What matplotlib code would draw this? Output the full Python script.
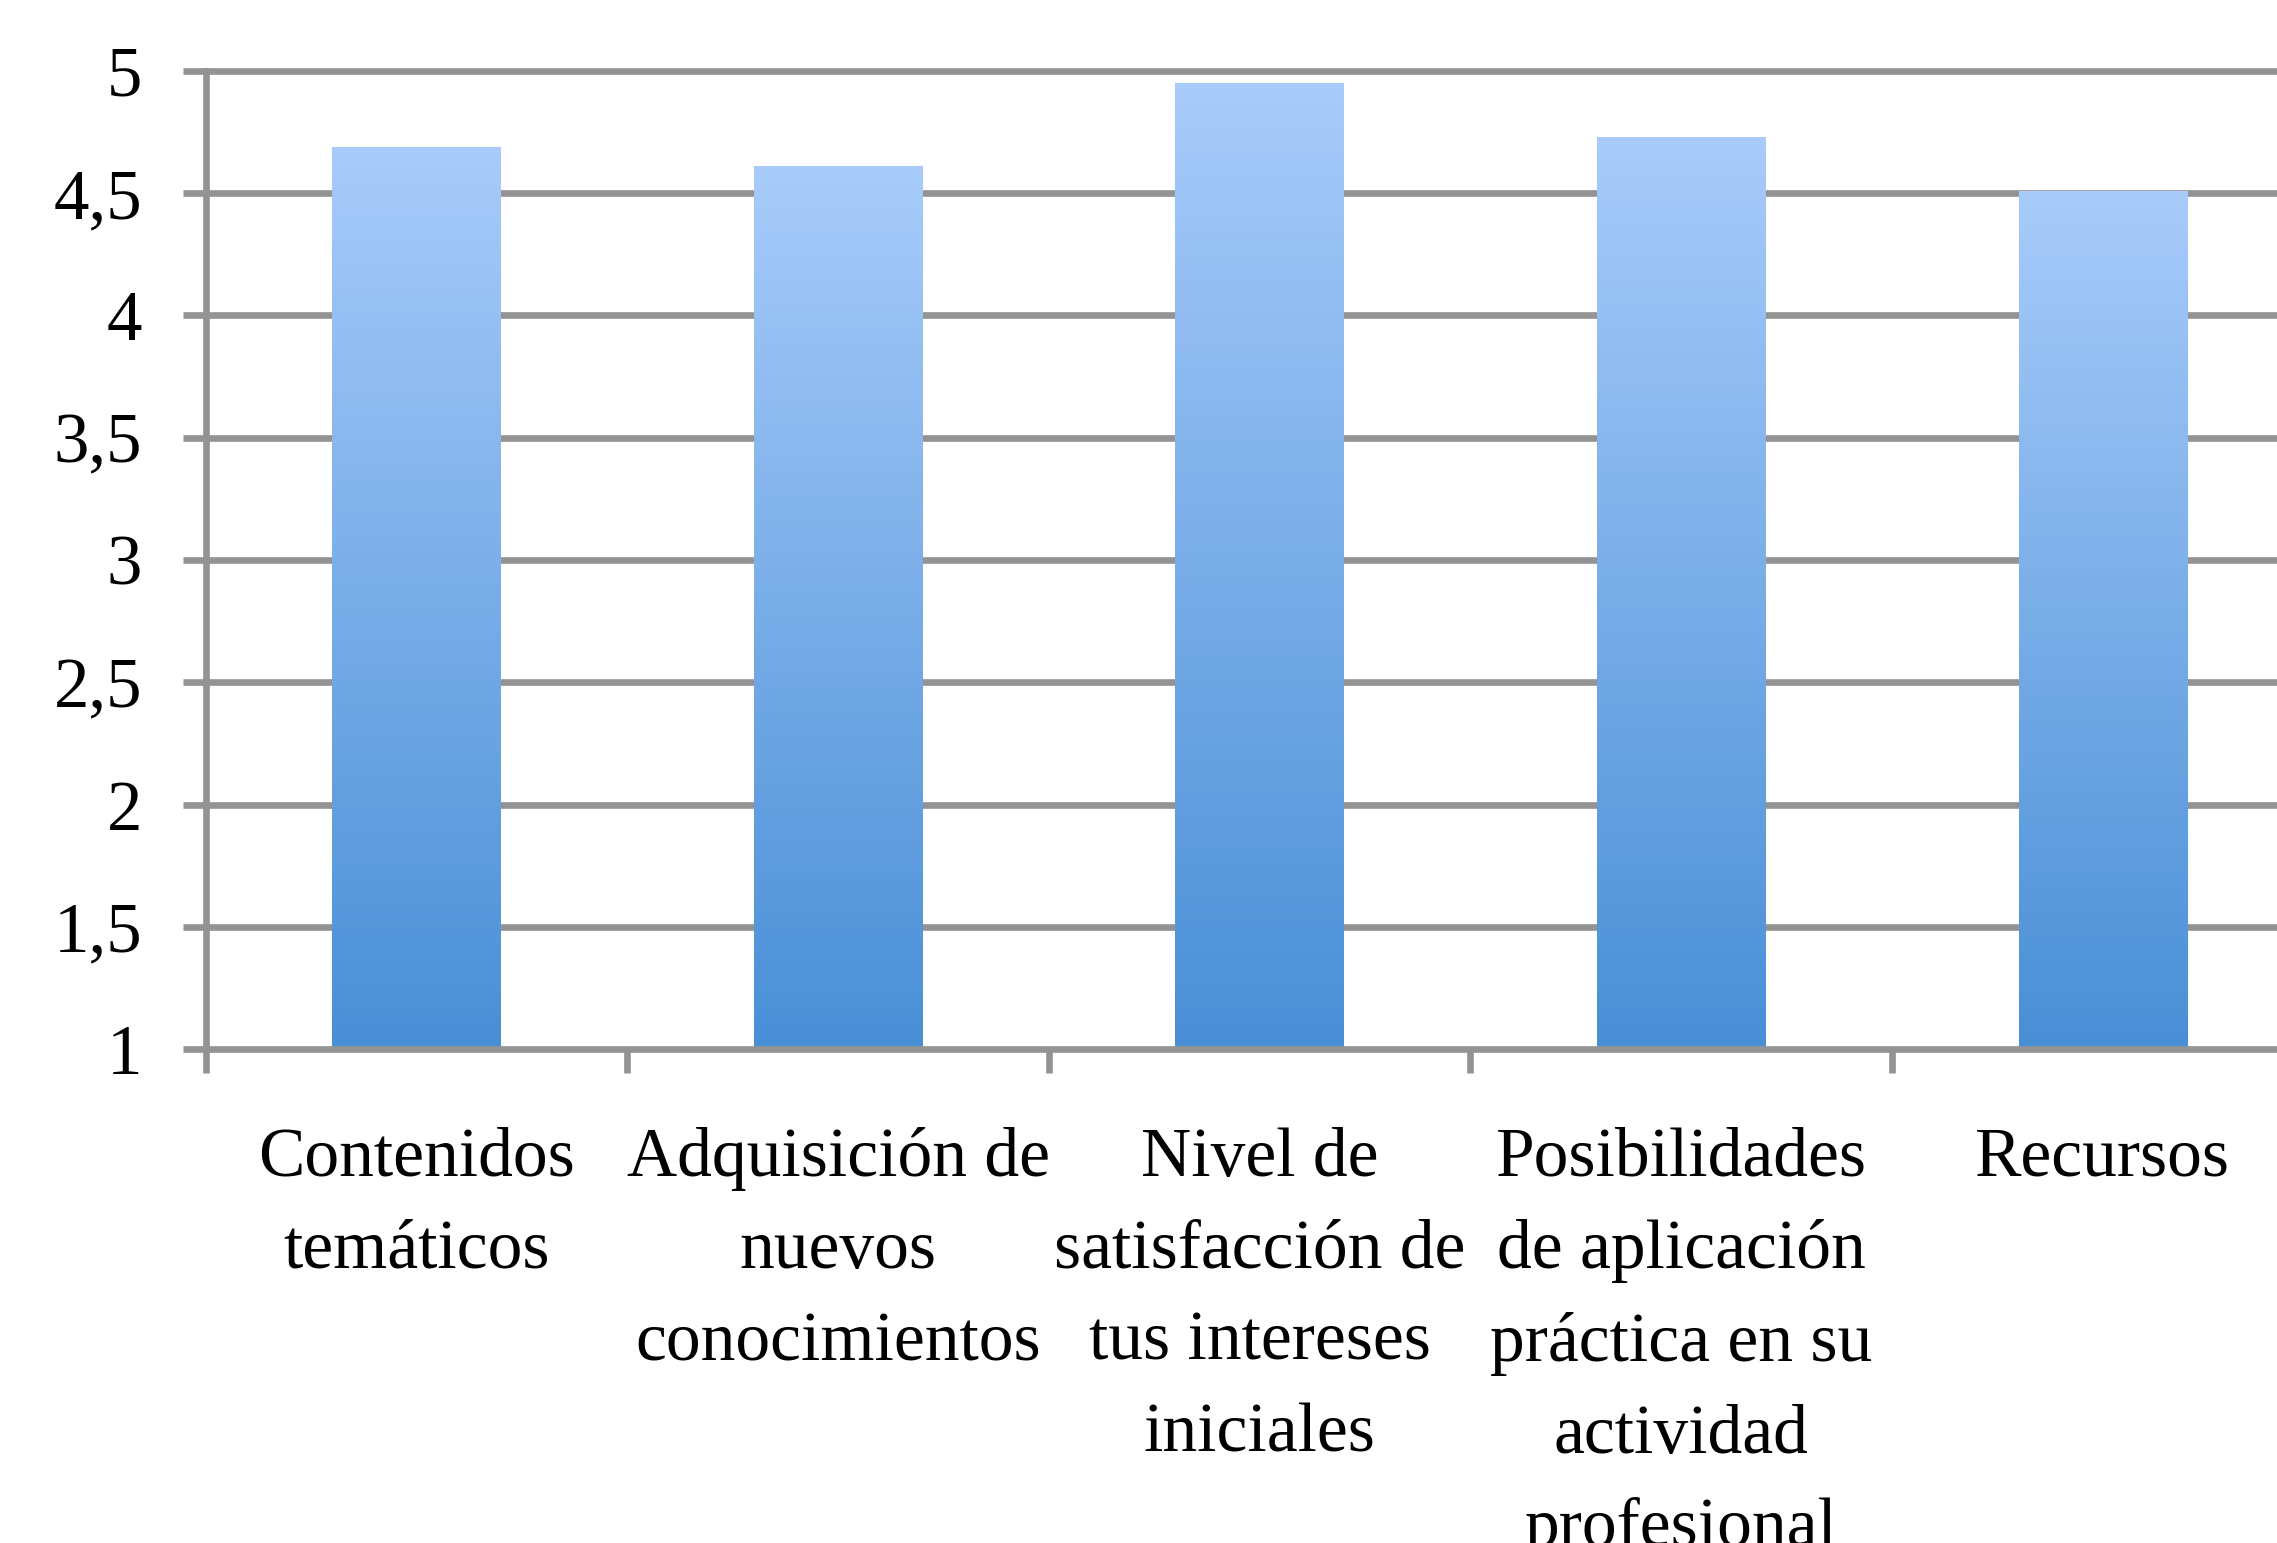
import numpy as np
import matplotlib
matplotlib.use("Agg")
import matplotlib.pyplot as plt
from matplotlib.colors import LinearSegmentedColormap

# datos
categories = [
    "Contenidos\ntemáticos",
    "Adquisición de\nnuevos\nconocimientos",
    "Nivel de\nsatisfacción de\ntus intereses\niniciales",
    "Posibilidades\nde aplicación\npráctica en su\nactividad\nprofesional",
    "Recursos",
]
values = [4.69, 4.61, 4.95, 4.73, 4.51]
y_ticks = [1, 1.5, 2, 2.5, 3, 3.5, 4, 4.5, 5]
y_tick_labels = ["1", "1,5", "2", "2,5", "3", "3,5", "4", "4,5", "5"]

GRID = "#939393"
LW = 4.8
bar_cmap = LinearSegmentedColormap.from_list("barfill", ["#498fd6", "#a8cbfa"])

plt.rcParams["font.family"] = ["Liberation Serif", "DejaVu Serif"]

fig = plt.figure(figsize=(22.77, 15.43), dpi=100)
ax = fig.add_axes([0.0903, 0.3200, 0.9258, 0.6342])

x = np.arange(len(categories))
bars = ax.bar(x, np.array(values) - 1, bottom=1, width=0.4,
              color="none", edgecolor="none", zorder=2)

# relleno degradado (claro arriba, oscuro abajo)
gradient = np.linspace(0, 1, 256).reshape(-1, 1)
for bar in bars:
    x0, y0 = bar.get_x(), bar.get_y()
    img = ax.imshow(gradient, cmap=bar_cmap, origin="lower", aspect="auto",
                    interpolation="bilinear", zorder=2,
                    extent=[x0, x0 + bar.get_width(), y0, y0 + bar.get_height()])
    img.set_clip_path(bar)

# líneas de cuadrícula
for y in y_ticks[1:]:
    ax.axhline(y, color=GRID, lw=LW, zorder=1, clip_on=False)

ax.set_xlim(-0.5, len(categories) - 0.5)
ax.set_ylim(1, 5)

for side in ["top", "right"]:
    ax.spines[side].set_visible(False)
for side in ["left", "bottom"]:
    ax.spines[side].set_color(GRID)
    ax.spines[side].set_linewidth(LW)

ax.set_yticks(y_ticks, y_tick_labels)
ax.tick_params(axis="y", direction="out", length=16.6, width=LW, color=GRID,
               pad=29, labelsize=51)

ax.set_xticks(x, categories)
ax.set_xticks(np.arange(-0.5, len(categories)), minor=True)
ax.tick_params(axis="x", which="major", length=0, pad=56, labelsize=50)
ax.tick_params(axis="x", which="minor", direction="out", length=17.3,
               width=LW, color=GRID)
for lbl in ax.get_xticklabels():
    lbl.set_linespacing(1.59)
    lbl.set_multialignment("center")

fig.savefig("out.png", dpi=100)
